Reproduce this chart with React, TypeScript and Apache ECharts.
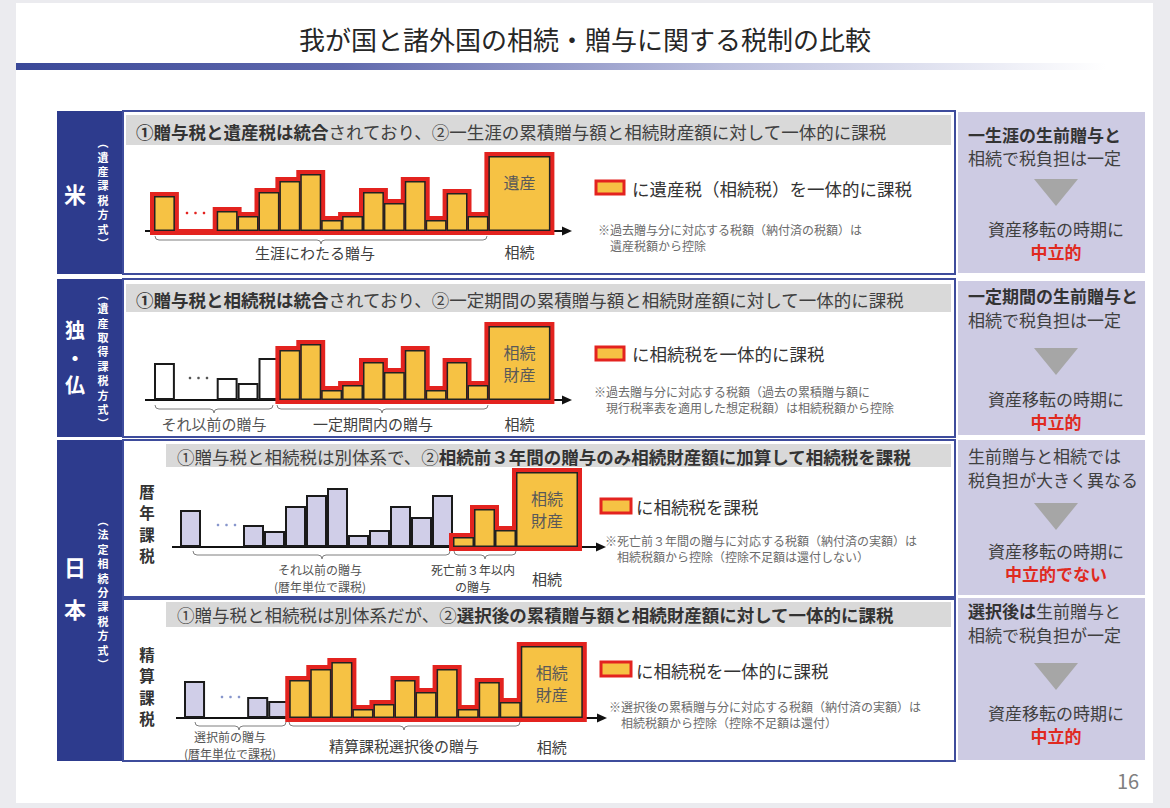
import React, { useEffect, useRef } from 'react';
import * as echarts from 'echarts';

const FONT = '"Noto Sans CJK JP", "Noto Sans", sans-serif';

// ---------- data ----------
const slots = ['1', '2', '3', '4', '5', '6', '7', '8', '9', '10', '11', '12', '13', '14', '15', '16'];
const estateSlot = ['相続'];

// 米 (遺産課税方式)
const usLifetimeGifts = [35, null, null, 20, 15, 39, 50, 57, 11, 15, 39, 28, 50, 11, 38, 15];
const usEstate = [75];
// 独・仏 (遺産取得課税方式)
const deEarlierGifts = [37, null, null, 22, 17, 42];
const dePeriodGifts = [50, 56, 10, 15, 38, 28, 50, 10, 38, 15];
const deEstate = [74];
// 日本 暦年課税
const jpCalEarlierGifts = [37, null, null, 22, 16, 41, 52, 59, 12, 17, 41, 30, 52];
const jpCalLast3Gifts = [10, 38, 17];
const jpCalEstate = [75];
// 日本 精算課税
const jpSetBeforeGifts = [37, null, null, 21, 17];
const jpSetAfterGifts = [38, 49, 56, 9, 14, 38, 26, 49, 9, 36, 16];
const jpSetEstate = [72];

const estateLabels = ['遺産', '相続\n財産', '相続\n財産', '相続\n財産'];

// ---------- styles ----------
const RED = '#e3231f';
const YELLOW = '#f6c244';
const NAVY = '#2d3b8d';
const LAV = '#d0cee8';
const PANEL_LAV = '#cdcbe3';
const BORDER = '#3e4c9c';
const OUT = 4; // red outline thickness (px == value units)

try {
  echarts.graphic.registerShape(
    'brace',
    echarts.graphic.extendShape({
      shape: { x1: 0, x2: 0, xm: 0, y: 0, h: 8 },
      buildPath(ctx: any, s: any) {
        const r = s.h / 2;
        ctx.moveTo(s.x1, s.y);
        ctx.quadraticCurveTo(s.x1, s.y + r, s.x1 + r, s.y + r);
        ctx.lineTo(s.xm - r, s.y + r);
        ctx.quadraticCurveTo(s.xm, s.y + r, s.xm, s.y + 2 * r);
        ctx.moveTo(s.xm, s.y + 2 * r);
        ctx.quadraticCurveTo(s.xm, s.y + r, s.xm + r, s.y + r);
        ctx.lineTo(s.x2 - r, s.y + r);
        ctx.quadraticCurveTo(s.x2, s.y + r, s.x2, s.y);
      },
    }) as any
  );
} catch (e) {
  /* already registered */
}

function place(values: (number | null)[], start: number) {
  const out: (number | null)[] = slots.map(() => null);
  values.forEach((v, i) => {
    out[start + i] = v;
  });
  return out;
}

const rowsData = [
  { plain: null as (number | null)[] | null, plainColor: '#ffffff', taxed: place(usLifetimeGifts, 0), gapInGroup: true, estate: usEstate },
  { plain: place(deEarlierGifts, 0), plainColor: '#ffffff', taxed: place(dePeriodGifts, deEarlierGifts.length), gapInGroup: false, estate: deEstate },
  { plain: place(jpCalEarlierGifts, 0), plainColor: LAV, taxed: place(jpCalLast3Gifts, jpCalEarlierGifts.length), gapInGroup: false, estate: jpCalEstate },
  { plain: place(jpSetBeforeGifts, 0), plainColor: LAV, taxed: place(jpSetAfterGifts, jpSetBeforeGifts.length), gapInGroup: false, estate: jpSetEstate },
];

const layout = [
  { base: 231, x0: 154, w: 20.9, bigW: 62 },
  { base: 400, x0: 154, w: 20.9, bigW: 62 },
  { base: 547, x0: 180, w: 21.0, bigW: 62 },
  { base: 718, x0: 184, w: 21.05, bigW: 62 },
];

function txt(text: string, x: number, y: number, o: any = {}) {
  return {
    type: 'text',
    x,
    y,
    z: 9,
    silent: true,
    style: {
      text,
      fill: o.fill || '#404040',
      fontSize: o.fontSize || 15,
      fontFamily: FONT,
      fontWeight: o.fontWeight || 'normal',
      lineHeight: o.lineHeight,
      textAlign: o.align || 'center',
      textVerticalAlign: 'middle',
      rich: o.rich,
    },
  };
}

// vertical text as a single multi-line text element
function vtext(str: string, x: number, yCenter: number, step: number, o: any) {
  return txt(Array.from(str).join('\n'), x, yCenter, { ...o, lineHeight: step });
}

function rect(x: number, y: number, w: number, h: number, style: any, z = 1) {
  return { type: 'rect', z, silent: true, shape: { x, y, width: w, height: h }, style };
}

function buildOption() {
  const grid: any[] = [];
  const xAxis: any[] = [];
  const yAxis: any[] = [];
  const series: any[] = [];
  const barBase = {
    type: 'bar',
    barGap: '-100%',
    barCategoryGap: '0%',
    clip: false,
    silent: true,
  };

  layout.forEach((L, i) => {
    const smallW = slots.length * L.w;
    const gi = 4 * i;
    // 0: small bars, 1: estate bar, 2: outline of small bars, 3: outline of estate bar
    grid.push({ left: L.x0, top: L.base - 100, width: smallW, height: 100 });
    grid.push({ left: L.x0 + smallW, top: L.base - 100, width: L.bigW, height: 100 });
    grid.push({ left: L.x0, top: L.base - 100, width: smallW, height: 100 + OUT });
    grid.push({ left: L.x0 + smallW, top: L.base - 100, width: L.bigW, height: 100 + OUT });
    [0, 1, 2, 3].forEach((k) => {
      xAxis.push({ type: 'category', gridIndex: gi + k, data: k % 2 === 0 ? slots : estateSlot, show: false });
      yAxis.push({ type: 'value', gridIndex: gi + k, min: 0, max: k < 2 ? 100 : 100 + OUT, show: false });
    });
    const r = rowsData[i];
    const firstTaxed = r.taxed.findIndex((v) => v != null);
    const outline = r.taxed.map((v, k) =>
      v != null ? v + 2 * OUT : r.gapInGroup && k > firstTaxed ? OUT * 1.5 : null
    );
    if (r.plain) {
      series.push({
        ...barBase,
        name: 'plain' + i,
        barWidth: '100%',
        xAxisIndex: gi,
        yAxisIndex: gi,
        z: 5,
        data: r.plain,
        itemStyle: { color: r.plainColor, borderColor: '#1a1a1a', borderWidth: 2 },
      });
    }
    series.push({
      ...barBase,
      name: 'outline' + i,
      barWidth: L.w + 2 * OUT,
      xAxisIndex: gi + 2,
      yAxisIndex: gi + 2,
      z: 6,
      data: outline,
      itemStyle: { color: RED },
    });
    series.push({
      ...barBase,
      name: 'estateOutline' + i,
      barWidth: L.bigW + 2 * OUT,
      xAxisIndex: gi + 3,
      yAxisIndex: gi + 3,
      z: 6,
      data: r.estate.map((v) => v + 2 * OUT),
      itemStyle: { color: RED },
    });
    series.push({
      ...barBase,
      name: 'taxed' + i,
      barWidth: '100%',
      xAxisIndex: gi,
      yAxisIndex: gi,
      z: 7,
      data: r.taxed,
      itemStyle: { color: YELLOW, borderColor: '#222', borderWidth: 1.5 },
    });
    series.push({
      ...barBase,
      name: 'estate' + i,
      barWidth: '100%',
      xAxisIndex: gi + 1,
      yAxisIndex: gi + 1,
      z: 7,
      data: r.estate,
      itemStyle: { color: YELLOW, borderColor: '#222', borderWidth: 1.5 },
      label: {
        show: true,
        position: 'insideTop',
        distance: 15,
        formatter: estateLabels[i],
        fontSize: 16,
        lineHeight: 22,
        color: '#595959',
        fontFamily: FONT,
      },
    });
  });

  const g: any[] = [];
  // slide
  g.push(rect(16, 3, 1137, 800, { fill: '#ffffff' }, 0));
  g.push(txt('我が国と諸外国の相続・贈与に関する税制の比較', 585, 38, { fontSize: 26, fill: '#262626' }));
  g.push(
    rect(16, 63, 1090, 7, {
      fill: new echarts.graphic.LinearGradient(0, 0, 1, 0, [
        { offset: 0, color: '#3a4898' },
        { offset: 0.3, color: '#6069ad' },
        { offset: 0.65, color: '#bcc0de' },
        { offset: 1, color: '#ffffff' },
      ]),
    })
  );

  // navy columns
  g.push(rect(57, 111, 66, 163, { fill: NAVY }));
  g.push(rect(57, 279, 66, 158, { fill: NAVY }));
  g.push(rect(57, 440, 66, 321, { fill: NAVY }));

  // middle panels
  const panels = [
    [111, 163],
    [279, 158],
    [440, 157],
    [599, 162],
  ];
  panels.forEach(([y, h]) => g.push(rect(123, y, 832, h, { fill: '#ffffff', stroke: BORDER, lineWidth: 2 }, 1)));
  // header bands
  g.push(rect(126, 115, 825, 30, { fill: '#d9d9d9' }, 2));
  g.push(rect(126, 284, 825, 28, { fill: '#d9d9d9' }, 2));
  g.push(rect(166, 444, 785, 23, { fill: '#d9d9d9' }, 2));
  g.push(rect(166, 602, 785, 25, { fill: '#d9d9d9' }, 2));
  // right panels
  g.push(rect(958, 112, 187, 161, { fill: PANEL_LAV }, 1));
  g.push(rect(958, 281, 187, 154, { fill: PANEL_LAV }, 1));
  g.push(rect(958, 440, 187, 155, { fill: PANEL_LAV }, 1));
  g.push(rect(958, 598, 187, 162, { fill: PANEL_LAV }, 1));

  // navy labels
  const white = { fill: '#ffffff', fontWeight: 'bold' };
  g.push(txt('米', 75, 193, { ...white, fontSize: 22 }));
  g.push(vtext('︵遺産課税方式︶', 103, 192.5, 14.4, { ...white, fontSize: 11 }));
  g.push(vtext('独・仏', 75, 357, 27.5, { ...white, fontSize: 20 }));
  g.push(vtext('︵遺産取得課税方式︶', 103, 358.5, 14.4, { ...white, fontSize: 11 }));
  g.push(vtext('日本', 75, 587, 42, { ...white, fontSize: 22 }));
  g.push(vtext('︵法定相続分課税方式︶', 103, 592, 14.4, { ...white, fontSize: 11 }));

  // side labels
  g.push(vtext('暦年課税', 147, 523, 21.3, { fontSize: 15.5, fontWeight: 'bold', fill: '#333' }));
  g.push(vtext('精算課税', 147, 686, 21.3, { fontSize: 15.5, fontWeight: 'bold', fill: '#333' }));

  // header texts
  const hb = { fontSize: 17.5, fontFamily: FONT, fontWeight: 'bold', fill: '#333' };
  const hn = { fontSize: 17.5, fontFamily: FONT, fontWeight: 'normal', fill: '#404040' };
  const headRich = { b: hb, n: hn };
  g.push(txt('{b|①贈与税と遺産税は統合}{n|されており、②一生涯の累積贈与額と相続財産額に対して一体的に課税}', 136, 131, { align: 'left', rich: headRich }));
  g.push(txt('{b|①贈与税と相続税は統合}{n|されており、②一定期間の累積贈与額と相続財産額に対して一体的に課税}', 136, 299, { align: 'left', rich: headRich }));
  g.push(txt('{n|①贈与税と相続税は別体系で、②}{b|相続前３年間の贈与のみ相続財産額に加算して相続税を課税}', 177, 456, { align: 'left', rich: headRich }));
  g.push(txt('{n|①贈与税と相続税は別体系だが、②}{b|選択後の累積贈与額と相続財産額に対して一体的に課税}', 177, 614, { align: 'left', rich: headRich }));

  // axes with arrows
  const axes = [
    [145, 572, 231],
    [145, 572, 400],
    [172, 606, 547],
    [176, 607, 718],
  ];
  axes.forEach(([x1, tip, y]) => {
    g.push({ type: 'line', z: 3, silent: true, shape: { x1, y1: y, x2: tip - 6, y2: y }, style: { stroke: '#111', lineWidth: 2 } });
    g.push({ type: 'polygon', z: 3, silent: true, shape: { points: [[tip - 10, y - 4.5], [tip, y], [tip - 10, y + 4.5]] }, style: { fill: '#111' } });
  });

  // braces
  const braces = [
    [155, 487, 321, 236],
    [155, 273, 214, 405],
    [277, 488, 382, 405],
    [193, 450, 322, 551],
    [454, 516, 485, 551],
    [195, 286, 239, 722],
    [289, 520, 404, 722],
  ];
  braces.forEach(([x1, x2, xm, y]) =>
    g.push({ type: 'brace', z: 3, silent: true, shape: { x1, x2, xm, y, h: 8 }, style: { stroke: '#7f7f7f', fill: 'none', lineWidth: 1 } })
  );

  // dots
  const dots = [
    [187, 213, RED],
    [190, 378, '#555555'],
    [218, 525, '#8796cc'],
    [222, 697, '#8796cc'],
  ];
  dots.forEach(([x, y, c]: any) => {
    for (let k = 0; k < 3; k++) {
      g.push({ type: 'circle', z: 8, silent: true, shape: { cx: x + k * 8.5, cy: y, r: 1.3 }, style: { fill: c } });
    }
  });

  // labels under axes
  const estateCenter = (i: number) => layout[i].x0 + slots.length * layout[i].w + layout[i].bigW / 2;
  g.push(txt('生涯にわたる贈与', 315, 252, {}));
  g.push(txt('相続', estateCenter(0), 251, {}));
  g.push(txt('それ以前の贈与', 214, 423, { fill: '#555' }));
  g.push(txt('一定期間内の贈与', 373, 423, {}));
  g.push(txt('相続', estateCenter(1), 423, {}));
  g.push(txt('それ以前の贈与\n(暦年単位で課税)', 320, 578, { fill: '#555', fontSize: 12, lineHeight: 16.6 }));
  g.push(txt('死亡前３年以内\nの贈与', 473, 578, { fontSize: 12, lineHeight: 16.6 }));
  g.push(txt('相続', estateCenter(2), 578, {}));
  g.push(txt('選択前の贈与\n(暦年単位で課税)', 230, 745, { fill: '#555', fontSize: 12, lineHeight: 16.6 }));
  g.push(txt('精算課税選択後の贈与', 404, 745, {}));
  g.push(txt('相続', estateCenter(3), 746, {}));

  // legend squares and texts
  const legendBox = (x: number, y: number, w: number, h: number) =>
    g.push(rect(x, y, w, h, { fill: YELLOW, stroke: RED, lineWidth: 3 }, 8));
  legendBox(596, 181, 28, 13);
  legendBox(596, 347, 28, 13);
  legendBox(601, 499, 30, 14);
  legendBox(601, 662, 30, 14);
  const lg = { align: 'left', fontSize: 17.5, fill: '#333' };
  g.push(txt('に遺産税（相続税）を一体的に課税', 632, 188, lg));
  g.push(txt('に相続税を一体的に課税', 632, 353, lg));
  g.push(txt('に相続税を課税', 636, 506, lg));
  g.push(txt('に相続税を一体的に課税', 636, 670, lg));

  // footnotes
  const fn = { align: 'left', fontSize: 12, fill: '#6b6b6b', lineHeight: 16.6 };
  g.push(txt('※過去贈与分に対応する税額（納付済の税額）は\n\u3000遺産税額から控除', 598, 237.5, fn));
  g.push(txt('※過去贈与分に対応する税額（過去の累積贈与額に\n\u3000現行税率表を適用した想定税額）は相続税額から控除', 594, 399.5, fn));
  g.push(txt('※死亡前３年間の贈与に対応する税額（納付済の実額）は\n\u3000相続税額から控除（控除不足額は還付しない）', 605, 548.5, fn));
  g.push(txt('※選択後の累積贈与分に対応する税額（納付済の実額）は\n\u3000相続税額から控除（控除不足額は還付）', 609, 714.5, fn));

  // right panels text
  const rb = { fontSize: 17, fontFamily: FONT, fontWeight: 'bold', fill: '#333', lineHeight: 23.4 };
  const rn = { fontSize: 17, fontFamily: FONT, fontWeight: 'normal', fill: '#404040', lineHeight: 23.4 };
  const rr = { fontSize: 17, fontFamily: FONT, fontWeight: 'bold', fill: '#e02a1f', lineHeight: 23.4 };
  const rich = { b: rb, n: rn, r: rr };
  const right = [
    { top: '{b|一生涯の生前贈与と}\n{n|相続で税負担は一定}', yTop: 146, tri: 179, yBot: 240, l4: '{r|中立的}' },
    { top: '{b|一定期間の生前贈与と}\n{n|相続で税負担は一定}', yTop: 307.5, tri: 348, yBot: 410, l4: '{r|中立的}' },
    { top: '{n|生前贈与と相続では}\n{n|税負担が大きく異なる}', yTop: 467.5, tri: 503, yBot: 562, l4: '{r|中立的でない}' },
    { top: '{b|選択後は}{n|生前贈与と}\n{n|相続で税負担が一定}', yTop: 622.5, tri: 663, yBot: 724, l4: '{r|中立的}' },
  ];
  right.forEach((p) => {
    g.push(txt(p.top, 968, p.yTop, { align: 'left', rich }));
    g.push({ type: 'polygon', z: 8, silent: true, shape: { points: [[1034, p.tri], [1078, p.tri], [1056, p.tri + 27]] }, style: { fill: '#a6a6a6' } });
    g.push(txt('{n|資産移転の時期に}\n' + p.l4, 1056, p.yBot, { rich }));
  });

  g.push(txt('16', 1128, 780, { fontSize: 20, fill: '#808080' }));

  return {
    animation: false,
    backgroundColor: '#ebebef',
    textStyle: { fontFamily: FONT },
    grid,
    xAxis,
    yAxis,
    series,
    graphic: { elements: g },
  };
}

export default function App() {
  const ref = useRef<HTMLDivElement>(null);
  useEffect(() => {
    if (!ref.current) return;
    const chart = echarts.init(ref.current, null, { renderer: 'svg' });
    chart.setOption(buildOption() as any);
    return () => chart.dispose();
  }, []);
  return <div ref={ref} style={{ position: 'fixed', left: 0, top: 0, width: 1170, height: 808 }} />;
}
